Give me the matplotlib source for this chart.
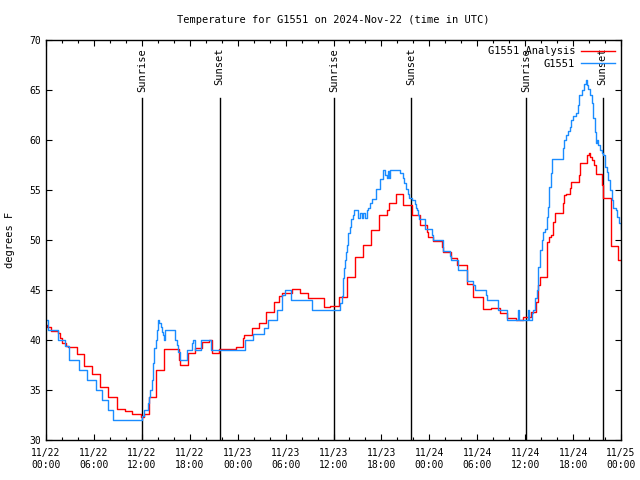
import matplotlib
matplotlib.use("Agg")
import matplotlib.pyplot as plt
from matplotlib.ticker import MultipleLocator

# hours since 11/22 00:00 UTC
obs_hours = [0, 0.3, 1.54, 2.38, 2.92, 4.17, 5.17, 6.26, 7.05, 7.8, 8.35,
             12.06, 12.31, 12.77, 12.94, 13.06, 13.27, 13.4, 13.56, 13.74, 13.9,
             14.06, 14.19, 14.36, 14.53, 14.69, 14.81, 14.94, 16.12, 16.37, 16.57,
             16.78, 17.69, 18.24, 18.37, 18.66, 19.45, 20.62, 24.92, 25.96, 27.3,
             27.84, 28.89, 29.55, 29.93, 30.68, 33.27, 36.81, 37.03, 37.13, 37.23,
             37.35, 37.44, 37.57, 37.73, 37.85, 38.07, 38.19, 38.48, 38.61, 39.11,
             39.32, 39.53, 39.73, 39.94, 40.16, 40.36, 40.57, 40.78, 41.28, 41.88,
             42.16, 42.45, 42.66, 42.79, 42.95, 43.08, 44.33, 44.67, 44.83, 45.04,
             45.37, 45.49, 45.79, 46.17, 46.29, 46.42, 46.62, 46.75, 47.46, 48.37,
             48.5, 49.67, 49.75, 50.59, 50.68, 51.63, 52.68, 52.75, 53.43, 53.72,
             55.1, 55.18, 56.56, 57.76, 59.1, 59.2, 60.39, 60.48, 60.82, 61.02,
             61.23, 61.44, 61.64, 61.86, 62.07, 62.27, 62.48, 62.7, 62.82, 62.99,
             63.2, 63.36, 64.78, 64.9, 65.11, 65.4, 65.61, 65.74, 66.03, 66.37,
             66.66, 66.79, 67.08, 67.37, 67.62, 67.78, 67.91, 68.12, 68.33, 68.53,
             68.74, 68.87, 69.03, 69.16, 69.37, 69.58, 69.79, 70.0, 70.21, 70.41,
             70.62, 70.83, 71.04, 71.37, 71.54, 71.75, 71.96, 72]
obs_temp = [42, 41, 40, 39.4, 38, 37, 36, 35, 34, 33, 32,
            32.4, 33, 33.7, 34.3, 35, 36, 37.7, 39.2, 40, 41,
            42, 41.7, 41.3, 40.8, 40.5, 40, 41, 40, 39.5, 38.8,
            38, 39, 39.7, 40, 39, 40, 39, 40, 40.6, 41.2,
            42, 43, 44.5, 45, 44, 43, 43.7, 44.4, 45.3, 46.2,
            47.2, 48, 48.8, 49.5, 50.7, 51.3, 52.1, 52.5, 53, 52.2,
            52.7, 52.2, 52.7, 52.2, 53, 53.2, 53.7, 54.1, 55.1, 56.1,
            57, 56.5, 56.2, 56.9, 56.2, 57, 56.7, 56.2, 55.7, 55.1,
            54.6, 54.2, 54, 53.6, 53.2, 53, 52.5, 52.1, 51.1, 50.5,
            50, 49.3, 48.9, 48.4, 48, 47, 46, 45.9, 45.5, 45,
            44.5, 44, 43, 42, 43, 42, 43, 42, 42.7, 43,
            44.2, 45, 47.3, 49, 50, 50.8, 51.1, 52.3, 53.3, 55.3,
            56.7, 58.1, 59.2, 60, 60.5, 60.9, 61.3, 62, 62.4, 62.7,
            63.5, 64.5, 65, 65.6, 66, 65.5, 65.1, 64.5, 63.7, 62.2,
            60.8, 59.7, 60, 59.5, 59, 58.7, 58.5, 57.3, 56.8, 56,
            55, 54, 53.2, 53, 52.3, 51.7, 51.1, 51.1]

ana_hours = [0, 0.16, 0.63, 1.54, 1.75, 1.97, 2.5, 2.72, 3.84, 4.8, 5.8,
             6.76, 7.8, 8.85, 9.89, 10.81, 11.86, 12.31, 12.9, 13.77, 14.81,
             16.65, 16.78, 17.74, 18.66, 19.57, 20.47, 20.75, 21.7, 23.79, 24.73,
             24.83, 25.83, 26.71, 27.51, 28.59, 29.2, 29.59, 30.84, 31.77, 32.77,
             34.85, 35.56, 36.69, 37.73, 38.66, 39.66, 40.66, 41.74, 42.7, 42.99,
             43.83, 44.64, 44.74, 45.79, 45.87, 46.83, 47.67, 47.87, 48.5, 49.55,
             49.75, 50.68, 51.43, 52.68, 53.51, 54.76, 55.68, 56.85, 57.76, 58.85,
             59.77, 60.73, 61.36, 61.64, 61.86, 62.77, 63.02, 63.23, 63.45, 63.74,
             64.78, 64.9, 65.11, 65.61, 65.74, 66.78, 66.87, 67.78, 68.03, 68.18,
             68.33, 68.62, 68.83, 69.66, 69.79, 70.75, 71.66, 72]
ana_temp = [41.5, 41.3, 40.9, 40.67, 40.2, 39.7, 39.4, 39.3, 38.6, 37.4, 36.6,
            35.3, 34.3, 33.1, 32.9, 32.6, 32.3, 32.6, 34.3, 37, 39.1,
            38, 37.5, 38.7, 39.2, 39.8, 40, 38.7, 39.1, 39.3, 40.2,
            40.5, 41.2, 41.7, 42.8, 43.8, 44.4, 44.7, 45.1, 44.7, 44.2,
            43.3, 43.4, 44.3, 46.3, 48.3, 49.5, 51, 52.5, 53, 53.7,
            54.6, 54, 53.5, 53, 52.5, 51.5, 50.8, 50.3, 49.9, 49.3,
            48.8, 48.2, 47.5, 45.6, 44.3, 43.1, 43.2, 42.7, 42.2, 42,
            42.3, 42.8, 43.8, 45.5, 46.3, 49.8, 50.3, 50.5, 51.8, 52.7,
            53.7, 54.5, 54.6, 55.2, 55.8, 56.5, 57.7, 58.5, 58.7, 58.3,
            58, 57.5, 56.6, 55.5, 54.2, 49.4, 48, 48]

sunrise = [12.0, 36.05, 60.1]
sunset = [21.75, 45.7, 69.7]

tick_hours = list(range(0, 73, 6))
tick_labels = ["11/22\n00:00", "11/22\n06:00", "11/22\n12:00", "11/22\n18:00",
               "11/23\n00:00", "11/23\n06:00", "11/23\n12:00", "11/23\n18:00",
               "11/24\n00:00", "11/24\n06:00", "11/24\n12:00", "11/24\n18:00",
               "11/25\n00:00"]

plt.rcParams['font.family'] = ['DejaVu Sans Mono']
plt.rcParams['font.size'] = 7

fig = plt.figure(figsize=(6.4, 4.8), dpi=100)
ax = fig.add_axes([46/640, 40/480, 575/640, 400/480])

for h in sunrise:
    ax.plot([h, h], [30, 64.2], color='black', lw=1)
    ax.text(h, 69.2, "Sunrise", rotation=90, ha='center', va='top', fontsize=7.5)
for h in sunset:
    ax.plot([h, h], [30, 64.2], color='black', lw=1)
    ax.text(h, 69.2, "Sunset", rotation=90, ha='center', va='top', fontsize=7.5)

ax.plot(ana_hours, ana_temp, color='#ff0000', lw=1, drawstyle='steps-post',
        label='G1551 Analysis')
ax.plot(obs_hours, obs_temp, color='#1a8cff', lw=1, drawstyle='steps-post',
        label='G1551')

ax.set_xlim(0, 72)
ax.set_ylim(30, 70)
ax.set_xticks(tick_hours)
ax.set_xticklabels(tick_labels)
ax.xaxis.set_minor_locator(MultipleLocator(2))
ax.set_yticks(range(30, 71, 5))
ax.tick_params(which='both', direction='in', top=True, right=True)
ax.tick_params(which='major', length=4.5, width=0.8)
ax.tick_params(which='minor', length=2.2, width=0.8)
ax.tick_params(axis='x', pad=6)
for s in ax.spines.values():
    s.set_linewidth(1)

ax.set_ylabel("degrees F", fontsize=7.5, labelpad=10)
ax.set_title("Temperature for G1551 on 2024-Nov-22 (time in UTC)", fontsize=7.5, pad=12)

ax.legend(loc='upper right', frameon=False, markerfirst=False, handlelength=3.2,
          fontsize=7.5, borderaxespad=0.2, labelspacing=0.25, handletextpad=0.6)

fig.savefig("out.png", dpi=100)
